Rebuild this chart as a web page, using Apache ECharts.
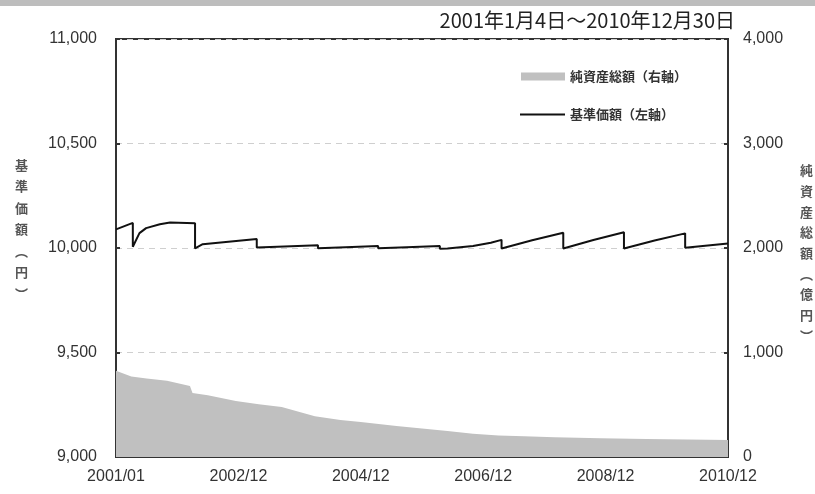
<!DOCTYPE html>
<html>
<head>
<meta charset="utf-8">
<script src="https://cdn.jsdelivr.net/npm/echarts@6/dist/echarts.min.js"></script>
<style>
  html, body { margin: 0; padding: 0; background: #fff; }
  #chart { width: 815px; height: 494px; }
</style>
</head>
<body>
<div id="chart"></div>
<script>
// x positions are months since 2001/01 (0 .. 120)
var xLabels = ['2001/01', '2002/12', '2004/12', '2006/12', '2008/12', '2010/12'];

// 基準価額 (left axis, yen) - annual drops around April
var navMonths = [0, 3.3, 3.3, 4.6, 5.9, 8.6, 10.6, 15.5, 15.5, 17, 27.6, 27.6, 33, 39.6, 39.6, 45, 51.4, 51.4, 57, 63.5, 63.5, 65, 70, 73.5, 75.6, 75.6, 81.6, 87.7, 87.7, 93.6, 99.6, 99.6, 105.6, 111.6, 111.6, 120];
var navValues = [10089, 10120, 10006, 10071, 10095, 10114, 10122, 10119, 9998, 10018, 10043, 10002, 10007, 10013, 9999, 10004, 10010, 9999, 10004, 10010, 9997, 9998, 10010, 10025, 10039, 9998, 10037, 10073, 9998, 10038, 10075, 9998, 10036, 10070, 10001, 10022];

// 純資産総額 (right axis, 億円)
var aumMonths = [0, 3, 6, 10, 13, 14.5, 15, 18, 23.5, 28, 32.5, 36, 39, 44, 48, 55, 60, 65, 70, 75, 80, 86, 95, 104, 112, 120];
var aumValues = [826, 770, 752, 730, 695, 680, 612, 590, 535, 505, 478, 430, 390, 355, 336, 297, 272, 250, 222, 205, 198, 189, 180, 172, 168, 163];

var leftTicks = { min: 9000, max: 11000, step: 500 };
var rightTicks = { min: 0, max: 4000, step: 1000 };

var leftName = ['基', '準', '価', '額', '︵', '円', '︶'];
var rightName = ['純', '資', '産', '総', '額', '︵', '億', '円', '︶'];

function pairs(xs, ys) {
  var out = [];
  for (var i = 0; i < xs.length; i++) out.push([xs[i], ys[i]]);
  return out;
}

var font = "'Liberation Sans', Arial, sans-serif";
var jpFont = "'Noto Sans CJK JP', sans-serif";

var chart = echarts.init(document.getElementById('chart'));

var option = {
  animation: false,
  backgroundColor: '#fff',
  grid: {
    left: 116, right: 87, top: 39, bottom: 37,
    show: true, borderColor: '#333', borderWidth: 2
  },
  graphic: [
    { type: 'rect', shape: { x: 0, y: 0, width: 815, height: 6 }, style: { fill: '#bdbdbd' } },
    {
      type: 'text', right: 80, top: 10,
      style: { text: '2001年1月4日～2010年12月30日', font: '20px ' + jpFont, fill: '#222' }
    },
    {
      type: 'text', left: 15, top: 154,
      style: { text: leftName.join('\n'), font: 'bold 13px ' + jpFont, fill: '#555', lineHeight: 21.5, align: 'center', width: 14 }
    },
    {
      type: 'text', left: 800, top: 160,
      style: { text: rightName.join('\n'), font: 'bold 13px ' + jpFont, fill: '#555', lineHeight: 20.7, align: 'center', width: 14 }
    }
  ],
  legend: [
    {
      data: [{ name: '純資産総額（右軸）', icon: 'rect' }],
      left: 516, top: 65, itemWidth: 44, itemHeight: 8, itemGap: 4,
      textStyle: { fontFamily: jpFont, fontSize: 13, color: '#333', fontWeight: 'bold' }
    },
    {
      data: [{ name: '基準価額（左軸）', icon: 'rect' }],
      left: 515, top: 103, itemWidth: 45, itemHeight: 2, itemGap: 4,
      textStyle: { fontFamily: jpFont, fontSize: 13, color: '#333', fontWeight: 'bold' }
    }
  ],
  xAxis: {
    type: 'value', min: 0, max: 120, interval: 24,
    axisLine: { lineStyle: { color: '#333', width: 2 } },
    axisTick: { inside: true, length: 4, lineStyle: { color: '#333', width: 2 } },
    axisLabel: {
      margin: 12, fontFamily: font, fontSize: 16, color: '#333',
      formatter: function (v) { return xLabels[Math.round(v / 24)]; }
    },
    splitLine: { show: false }
  },
  yAxis: [
    {
      type: 'value', min: leftTicks.min, max: leftTicks.max, interval: leftTicks.step,
      axisLine: { show: true, lineStyle: { color: '#333', width: 2 } },
      axisTick: { show: true, inside: true, length: 4, lineStyle: { color: '#333', width: 2 } },
      axisLabel: {
        margin: 19, fontFamily: font, fontSize: 16, color: '#333',
        formatter: function (v) { return v.toLocaleString('en-US'); }
      },
      splitLine: { show: true, lineStyle: { color: '#cfcfcf', type: [6, 5], width: 1 } }
    },
    {
      type: 'value', min: rightTicks.min, max: rightTicks.max, interval: rightTicks.step,
      axisLine: { show: true, lineStyle: { color: '#333', width: 2 } },
      axisTick: { show: true, inside: true, length: 4, lineStyle: { color: '#333', width: 2 } },
      axisLabel: {
        margin: 15, fontFamily: font, fontSize: 16, color: '#333',
        formatter: function (v) { return v.toLocaleString('en-US'); }
      },
      splitLine: { show: false }
    }
  ],
  series: [
    {
      name: '純資産総額（右軸）',
      type: 'line', yAxisIndex: 1,
      data: pairs(aumMonths, aumValues),
      symbol: 'none', smooth: false,
      lineStyle: { width: 0, color: '#c0c0c0' },
      itemStyle: { color: '#c0c0c0' },
      areaStyle: { color: '#c0c0c0', opacity: 1 },
      z: 1
    },
    {
      name: '基準価額（左軸）',
      type: 'line', yAxisIndex: 0,
      data: pairs(navMonths, navValues),
      symbol: 'none',
      lineStyle: { width: 2, color: '#111' },
      itemStyle: { color: '#111' },
      z: 3
    }
  ]
};

chart.setOption(option);
</script>
</body>
</html>
